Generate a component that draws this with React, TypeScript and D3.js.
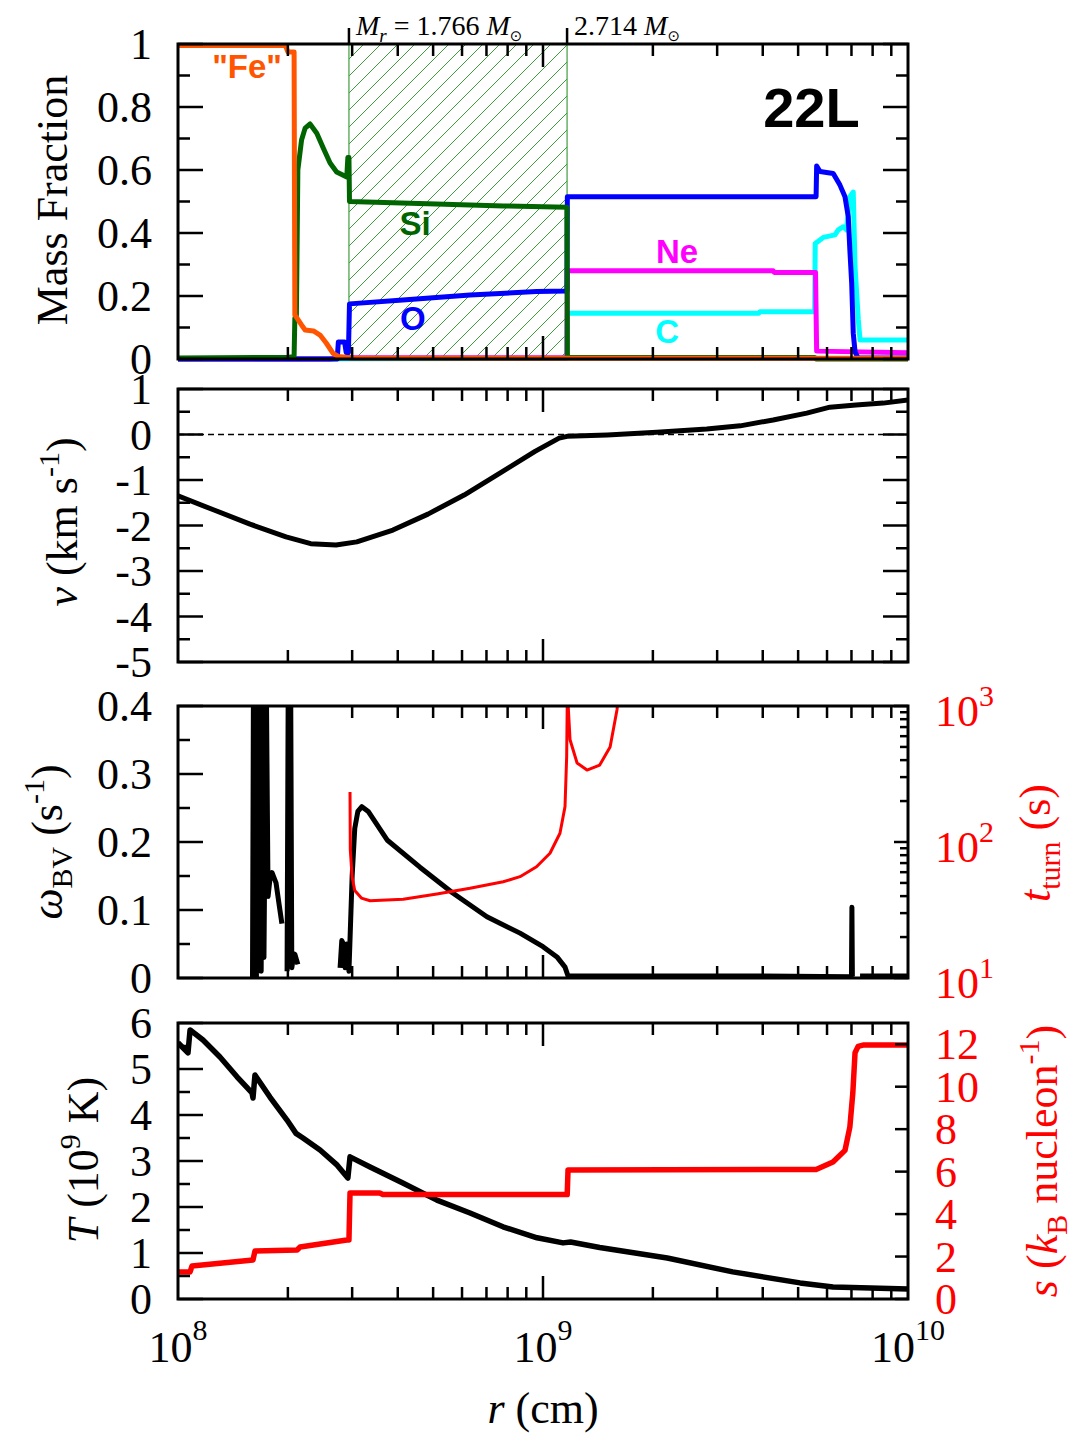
import React, { useEffect, useRef } from "react";
import * as d3 from "d3";

type Pt = [number, number | null];

// radius is in cm everywhere

// shell edges marked on the top axis and the enclosed mass at each
const shellEdges = [2.94e8, 1.164e9];
const shellMasses = ["1.766", "2.714"];

// mass fractions
const feFrac: Pt[] = [
  [1e8, 0.995], [1.97e8, 0.995], [2.0e8, 0.975], [2.08e8, 0.975], [2.09e8, 0.14],
  [2.18e8, 0.108], [2.23e8, 0.092], [2.35e8, 0.089], [2.45e8, 0.076], [2.55e8, 0.05],
  [2.66e8, 0.018], [2.75e8, 0.008], [3.0e8, 0.003], [1e10, 0.002],
];
const siFrac: Pt[] = [
  [1e8, 0.003], [2.0e8, 0.005], [2.08e8, 0.008], [2.09e8, 0.13], [2.11e8, 0.13],
  [2.13e8, 0.6], [2.18e8, 0.695], [2.23e8, 0.733], [2.3e8, 0.746], [2.4e8, 0.717],
  [2.5e8, 0.67], [2.61e8, 0.622], [2.72e8, 0.594], [2.9e8, 0.578], [2.92e8, 0.64],
  [2.94e8, 0.64], [2.95e8, 0.5], [5.1e8, 0.492], [7.8e8, 0.486], [1.163e9, 0.482],
  [1.166e9, 0.005], [5.55e9, 0.005], [5.6e9, 0.0], [1e10, 0.0],
];
const oFrac: Pt[] = [
  [1e8, 0.0], [2.73e8, 0.0], [2.75e8, 0.054], [2.86e8, 0.054], [2.89e8, 0.02],
  [2.93e8, 0.02], [2.95e8, 0.175], [4.13e8, 0.187], [6.31e8, 0.203], [9.6e8, 0.214],
  [1.163e9, 0.216], [1.166e9, 0.515], [5.6e9, 0.515], [5.62e9, 0.613], [5.74e9, 0.595],
  [6.24e9, 0.589], [6.51e9, 0.552], [6.72e9, 0.515], [6.86e9, 0.452], [6.93e9, 0.346],
  [7.01e9, 0.24], [7.08e9, 0.082], [7.16e9, 0.023], [7.3e9, 0.003], [1e10, 0.003],
];
const neFrac: Pt[] = [
  [1e8, 0.0], [2.6e8, 0.0], [2.8e8, 0.004], [1.163e9, 0.004], [1.166e9, 0.28],
  [4.27e9, 0.28], [4.3e9, 0.275], [5.58e9, 0.275], [5.62e9, 0.025], [1e10, 0.02],
];
const cFrac: Pt[] = [
  [1e8, 0.0], [1.163e9, 0.002], [1.166e9, 0.145], [3.9e9, 0.145], [3.93e9, 0.15],
  [5.55e9, 0.15], [5.57e9, 0.367], [5.86e9, 0.386], [6.31e9, 0.394], [6.44e9, 0.41],
  [6.65e9, 0.42], [6.79e9, 0.41], [6.93e9, 0.515], [7.08e9, 0.53], [7.16e9, 0.293],
  [7.31e9, 0.124], [7.39e9, 0.06], [1e10, 0.06],
];

// radial velocity (km/s)
const velocity: Pt[] = [
  [1e8, -1.35], [1.255e8, -1.66], [1.575e8, -1.97], [1.977e8, -2.25], [2.31e8, -2.4],
  [2.71e8, -2.43], [3.09e8, -2.36], [3.88e8, -2.1], [4.84e8, -1.75], [6.08e8, -1.33],
  [7.62e8, -0.85], [9.51e8, -0.37], [1.107e9, -0.08], [1.164e9, -0.04], [1.5e9, -0.01],
  [2.05e9, 0.05], [2.81e9, 0.12], [3.47e9, 0.19], [4.27e9, 0.32], [5.28e9, 0.47],
  [6.11e9, 0.6], [7.2e9, 0.65], [8.55e9, 0.69], [1e10, 0.76],
];

// Brunt-Vaisala frequency (1/s), null = gap
const omegaBV: Pt[] = [
  [1.6e8, 0.0], [1.61e8, 0.45], [1.62e8, 0.0], [1.63e8, 0.45], [1.64e8, 0.0],
  [1.65e8, 0.45], [1.66e8, 0.01], [1.675e8, 0.45], [1.69e8, 0.01], [1.705e8, 0.45],
  [1.72e8, 0.03], [1.745e8, 0.45], [1.765e8, 0.12], [1.79e8, 0.15],
  [1.81e8, 0.155], [1.856e8, 0.14], [1.89e8, 0.11], [1.926e8, 0.08], [1.93e8, null],
  [1.99e8, 0.01], [2.005e8, 0.45], [2.035e8, 0.45], [2.05e8, 0.015], [2.07e8, 0.03],
  [2.09e8, 0.035], [2.13e8, 0.02], [2.14e8, null],
  [2.78e8, 0.015], [2.81e8, 0.055], [2.84e8, 0.05], [2.87e8, 0.015], [2.9e8, 0.05],
  [2.94e8, 0.01], [3.0e8, 0.15], [3.05e8, 0.22], [3.11e8, 0.245], [3.19e8, 0.252],
  [3.32e8, 0.245], [3.74e8, 0.203], [4.6e8, 0.163], [5.66e8, 0.125], [7.02e8, 0.09],
  [8.65e8, 0.066], [1.0e9, 0.046], [1.092e9, 0.031], [1.149e9, 0.016], [1.171e9, 0.003],
  [2.0e9, 0.003], [4.0e9, 0.003], [7.0e9, 0.002], [7.02e9, 0.104], [7.04e9, 0.002],
  [7.1e9, null], [7.39e9, 0.003], [1e10, 0.003],
];

// turnover time (s), two branches
const tTurn: Pt[] = [
  [2.96e8, 233], [2.965e8, 88], [3.0e8, 55], [3.05e8, 44], [3.18e8, 38.7], [3.36e8, 37],
  [4.14e8, 38], [5.12e8, 41.5], [6.31e8, 45.7], [7.78e8, 51], [8.65e8, 55.6],
  [9.6e8, 65.8], [1.045e9, 82.6], [1.113e9, 116], [1.149e9, 182], [1.161e9, 424],
  [1.165e9, 1000], [1.166e9, null],
  [1.168e9, 1200], [1.186e9, 565], [1.24e9, 381], [1.32e9, 338], [1.43e9, 368],
  [1.527e9, 500], [1.595e9, 940], [1.61e9, 1200],
];

// temperature (1e9 K)
const temperature: Pt[] = [
  [1e8, 5.57], [1.065e8, 5.35], [1.079e8, 5.85], [1.171e8, 5.63], [1.303e8, 5.26],
  [1.451e8, 4.83], [1.595e8, 4.48], [1.605e8, 4.37], [1.625e8, 4.87], [1.786e8, 4.39],
  [1.989e8, 3.89], [2.105e8, 3.6], [2.2e8, 3.5], [2.45e8, 3.24], [2.73e8, 2.91],
  [2.92e8, 2.63], [2.96e8, 3.09], [3.36e8, 2.87], [4.13e8, 2.52], [5.12e8, 2.15],
  [6.31e8, 1.87], [7.77e8, 1.57], [9.63e8, 1.33], [1.135e9, 1.22], [1.19e9, 1.24],
  [1.43e9, 1.12], [2.19e9, 0.89], [3.31e9, 0.59], [5.06e9, 0.35], [6.23e9, 0.26],
  [1e10, 0.22],
];

// entropy (kB / nucleon)
const entropy: Pt[] = [
  [1e8, 1.27], [1.079e8, 1.27], [1.092e8, 1.55], [1.605e8, 1.84], [1.625e8, 2.26],
  [2.12e8, 2.31], [2.16e8, 2.45], [2.9e8, 2.78], [2.94e8, 2.78], [2.96e8, 4.99],
  [3.57e8, 4.99], [3.64e8, 4.92], [1.165e9, 4.92], [1.171e9, 6.08], [5.6e9, 6.1],
  [6.23e9, 6.45], [6.72e9, 7.0], [6.93e9, 8.1], [7.06e9, 9.7], [7.16e9, 11.6],
  [7.3e9, 11.9], [7.53e9, 11.96], [1e10, 11.96],
];

// tick labels
const radiusTicks = [1e8, 1e9, 1e10];
const massTicks = [0, 0.2, 0.4, 0.6, 0.8, 1];
const velTicks = [1, 0, -1, -2, -3, -4, -5];
const bvTicks = [0, 0.1, 0.2, 0.3, 0.4];
const turnTicks = [10, 100, 1000];
const tempTicks = [0, 1, 2, 3, 4, 5, 6];
const entropyTicks = [0, 2, 4, 6, 8, 10, 12];

const W = 1080;
const H = 1440;
const X0 = 178;
const X1 = 908;
const serif = "'Liberation Serif', 'Times New Roman', serif";
const sans = "'Liberation Sans', Arial, sans-serif";
const RED = "#ff0000";
const HATCH = "#3e9e3e";

type Run = { t: string; it?: boolean; size?: number; dy?: number; fam?: string };
type G = d3.Selection<any, unknown, null, undefined>;

function rich(g: G, runs: Run[], size: number, fill = "#000") {
  const txt = g.append("text")
    .attr("font-family", serif)
    .attr("font-size", size)
    .attr("fill", fill)
    .style("white-space", "pre");
  runs.forEach(r => {
    const ts = txt.append("tspan").text(r.t);
    if (r.it) ts.attr("font-style", "italic");
    if (r.size) ts.attr("font-size", r.size);
    if (r.dy) ts.attr("dy", r.dy);
    if (r.fam) ts.attr("font-family", r.fam);
  });
  return txt;
}

function midpoints(v: number[]) {
  const out: number[] = [];
  for (let i = 0; i < v.length - 1; i++) out.push((v[i] + v[i + 1]) / 2);
  return out;
}

function draw(svg: G) {
  const x = d3.scaleLog().domain([1e8, 1e10]).range([X0, X1]);

  const yMass = d3.scaleLinear().domain([0, 1]).range([359, 44]);
  const yVel = d3.scaleLinear().domain([-5, 1]).range([662, 389]);
  const yBV = d3.scaleLinear().domain([0, 0.4]).range([978, 706]);
  const yTurn = d3.scaleLog().domain([10, 1000]).range([978, 706]);
  const yTemp = d3.scaleLinear().domain([0, 6]).range([1299, 1023]);
  const yEnt = d3.scaleLinear().domain([0, 13]).range([1299, 1023]);

  const defs = svg.append("defs");
  const pat = defs.append("pattern")
    .attr("id", "hatch")
    .attr("patternUnits", "userSpaceOnUse")
    .attr("width", 17).attr("height", 17);
  pat.append("path")
    .attr("d", "M0,17 L17,0 M-2,2 L2,-2 M15,19 L19,15")
    .attr("stroke", HATCH).attr("stroke-width", 1)
    .attr("shape-rendering", "crispEdges");

  const clip = (id: string, y: d3.ScaleContinuousNumeric<number, number>, pad: number) => {
    const [b, t] = y.range();
    defs.append("clipPath").attr("id", id)
      .append("rect")
      .attr("x", X0).attr("y", t - pad)
      .attr("width", X1 - X0).attr("height", b - t + 2 * pad);
    return `url(#${id})`;
  };

  const lineFor = (y: (v: number) => number) =>
    d3.line<Pt>()
      .defined(d => d[1] !== null)
      .x(d => x(d[0]))
      .y(d => y(d[1] as number));

  const plot = (g: G, data: Pt[], y: (v: number) => number, color: string, w: number) =>
    g.append("path")
      .attr("d", lineFor(y)(data))
      .attr("fill", "none")
      .attr("stroke", color)
      .attr("stroke-width", w)
      .attr("stroke-linejoin", "round");

  const xTicks = (g: G, y: d3.ScaleContinuousNumeric<number, number>) => {
    const [b, t] = y.range();
    const ticks = x.ticks().filter(v => v > 1e8 && v < 1e10);
    const isMajor = (v: number) => Math.abs(Math.log10(v) - Math.round(Math.log10(v))) < 1e-9;
    g.selectAll(null).data(ticks).join("line")
      .attr("x1", d => x(d)).attr("x2", d => x(d))
      .attr("y1", b).attr("y2", d => b - (isMajor(d) ? 23 : 12))
      .attr("stroke", "#000").attr("stroke-width", 2.5);
    g.selectAll(null).data(ticks).join("line")
      .attr("x1", d => x(d)).attr("x2", d => x(d))
      .attr("y1", t).attr("y2", d => t + (isMajor(d) ? 23 : 12))
      .attr("stroke", "#000").attr("stroke-width", 2.5);
  };

  const yTicks = (g: G, y: (v: number) => number, values: number[], len: number, side: "left" | "right") => {
    const x0 = side === "left" ? X0 : X1;
    const dir = side === "left" ? 1 : -1;
    g.selectAll(null).data(values).join("line")
      .attr("x1", x0).attr("x2", x0 + dir * len)
      .attr("y1", d => y(d)).attr("y2", d => y(d))
      .attr("stroke", "#000").attr("stroke-width", 2.5);
  };

  const frame = (g: G, y: d3.ScaleContinuousNumeric<number, number>) => {
    const [b, t] = y.range();
    g.append("rect")
      .attr("x", X0).attr("y", t)
      .attr("width", X1 - X0).attr("height", b - t)
      .attr("fill", "none").attr("stroke", "#000").attr("stroke-width", 3);
  };

  const leftLabels = (g: G, y: (v: number) => number, values: number[]) => {
    g.selectAll(null).data(values).join("text")
      .attr("x", 152).attr("y", d => y(d) + 15)
      .attr("text-anchor", "end")
      .attr("font-family", serif).attr("font-size", 44)
      .text(d => String(d));
  };

  const rotLabel = (g: G, cx: number, cy: number, runs: Run[], fill = "#000") =>
    rich(g.append("g").attr("transform", `translate(${cx},${cy}) rotate(-90)`), runs, 44, fill)
      .attr("text-anchor", "middle");

  // ---------- panel 1: composition ----------
  const p1 = svg.append("g");
  const [m0, m1] = shellEdges;
  p1.append("rect")
    .attr("x", x(m0)).attr("y", yMass(1))
    .attr("width", x(m1) - x(m0)).attr("height", yMass(0) - yMass(1))
    .attr("fill", "url(#hatch)");
  p1.selectAll(null).data(shellEdges).join("line")
    .attr("x1", d => x(d)).attr("x2", d => x(d))
    .attr("y1", yMass(1)).attr("y2", yMass(0))
    .attr("stroke", HATCH).attr("stroke-width", 1.2);

  const c1 = p1.append("g").attr("clip-path", clip("clip1", yMass, 4));
  plot(c1, cFrac, yMass, "#00ffff", 5);
  plot(c1, neFrac, yMass, "#ff00ff", 5);
  plot(c1, oFrac, yMass, "#0000ff", 5);
  plot(c1, siFrac, yMass, "#006400", 5);
  plot(c1, feFrac, yMass, "#ff5500", 5);

  const species: [string, number, number, string][] = [
    ['"Fe"', 1.546e8, 0.892, "#ff5500"],
    ["Si", 4.46e8, 0.394, "#006400"],
    ["O", 4.4e8, 0.092, "#0000ff"],
    ["Ne", 2.33e9, 0.305, "#ff00ff"],
    ["C", 2.19e9, 0.051, "#00ffff"],
  ];
  p1.selectAll(null).data(species).join("text")
    .attr("x", d => x(d[1])).attr("y", d => yMass(d[2]))
    .attr("text-anchor", "middle")
    .attr("font-family", sans).attr("font-weight", "bold").attr("font-size", 33)
    .attr("fill", d => d[3])
    .text(d => d[0]);

  p1.append("text")
    .attr("x", x(4.01e9)).attr("y", yMass(0.737))
    .attr("font-family", sans).attr("font-weight", "bold").attr("font-size", 56)
    .text("22L");

  frame(p1, yMass);
  xTicks(p1, yMass);
  yTicks(p1, yMass, massTicks, 25, "left");
  yTicks(p1, yMass, midpoints(massTicks), 12, "left");
  yTicks(p1, yMass, massTicks, 25, "right");
  yTicks(p1, yMass, midpoints(massTicks), 12, "right");
  leftLabels(p1, yMass, massTicks);
  rotLabel(p1, 67, 200, [{ t: "Mass Fraction" }]);

  // shell marks above the frame
  p1.selectAll(null).data(shellEdges).join("line")
    .attr("x1", d => x(d)).attr("x2", d => x(d))
    .attr("y1", yMass(1) - 16).attr("y2", yMass(1))
    .attr("stroke", "#000").attr("stroke-width", 2.5);
  shellEdges.forEach((edge, i) => {
    const runs: Run[] = i === 0
      ? [{ t: "M", it: true }, { t: "r", it: true, size: 19, dy: 7 }, { t: " = " + shellMasses[i] + " ", dy: -7 }]
      : [{ t: shellMasses[i] + " " }];
    runs.push({ t: "M", it: true }, { t: "⊙", size: 15, dy: 6, fam: "'DejaVu Sans', sans-serif" });
    rich(p1, runs, 28).attr("x", x(edge) + 7).attr("y", 35);
  });

  // ---------- panel 2: velocity ----------
  const p2 = svg.append("g");
  p2.append("line")
    .attr("x1", X0).attr("x2", X1)
    .attr("y1", yVel(0)).attr("y2", yVel(0))
    .attr("stroke", "#000").attr("stroke-width", 1.5)
    .attr("stroke-dasharray", "6,4");
  const c2 = p2.append("g").attr("clip-path", clip("clip2", yVel, 3));
  plot(c2, velocity, yVel, "#000", 5);
  frame(p2, yVel);
  xTicks(p2, yVel);
  yTicks(p2, yVel, velTicks, 25, "left");
  yTicks(p2, yVel, midpoints(velTicks), 12, "left");
  yTicks(p2, yVel, velTicks, 25, "right");
  yTicks(p2, yVel, midpoints(velTicks), 12, "right");
  leftLabels(p2, yVel, velTicks);
  rotLabel(p2, 77, 522, [
    { t: "v", it: true }, { t: " (km s" }, { t: "-1", size: 30, dy: -18 }, { t: ")", dy: 18 },
  ]);

  // ---------- panel 3: BV frequency & turnover time ----------
  const p3 = svg.append("g");
  const c3 = p3.append("g").attr("clip-path", clip("clip3", yBV, 0));
  plot(c3, omegaBV, yBV, "#000", 5);
  plot(c3, tTurn, yTurn, RED, 3);
  frame(p3, yBV);
  xTicks(p3, yBV);
  yTicks(p3, yBV, bvTicks, 25, "left");
  yTicks(p3, yBV, midpoints(bvTicks), 12, "left");
  const logTicks = yTurn.ticks();
  yTicks(p3, yTurn, logTicks.filter(v => turnTicks.includes(v)), 14, "right");
  yTicks(p3, yTurn, logTicks.filter(v => !turnTicks.includes(v)), 8, "right");
  leftLabels(p3, yBV, bvTicks);
  turnTicks.forEach(v => {
    rich(p3, [{ t: "10" }, { t: String(Math.round(Math.log10(v))), size: 30, dy: -20 }], 44, RED)
      .attr("x", 935).attr("y", yTurn(v) + 20);
  });
  rotLabel(p3, 62, 842, [
    { t: "ω", it: true }, { t: "BV", size: 30, dy: 10 }, { t: " (s", dy: -10 },
    { t: "-1", size: 30, dy: -18 }, { t: ")", dy: 18 },
  ]);
  rotLabel(p3, 1050, 843, [
    { t: "t", it: true }, { t: "turn", size: 30, dy: 10 }, { t: " (s)", dy: -10 },
  ], RED);

  // ---------- panel 4: temperature & entropy ----------
  const p4 = svg.append("g");
  const c4 = p4.append("g").attr("clip-path", clip("clip4", yTemp, 3));
  plot(c4, temperature, yTemp, "#000", 5.5);
  plot(c4, entropy, yEnt, RED, 5.5);
  frame(p4, yTemp);
  xTicks(p4, yTemp);
  yTicks(p4, yTemp, tempTicks, 25, "left");
  yTicks(p4, yTemp, midpoints(tempTicks), 12, "left");
  yTicks(p4, yEnt, entropyTicks, 13, "right");
  leftLabels(p4, yTemp, tempTicks);
  p4.selectAll(null).data(entropyTicks).join("text")
    .attr("x", 935).attr("y", d => yEnt(d) + 15)
    .attr("font-family", serif).attr("font-size", 44).attr("fill", RED)
    .text(d => String(d));
  rotLabel(p4, 98, 1160, [
    { t: "T", it: true }, { t: " (10" }, { t: "9", size: 30, dy: -18 }, { t: " K)", dy: 18 },
  ]);
  rotLabel(p4, 1057, 1161, [
    { t: "s", it: true }, { t: " (" }, { t: "k", it: true }, { t: "B", size: 30, dy: 10 },
    { t: " nucleon", dy: -10 }, { t: "-1", size: 30, dy: -18 }, { t: ")", dy: 18 },
  ], RED);

  // x axis labels
  radiusTicks.forEach(v => {
    rich(svg, [{ t: "10" }, { t: String(Math.round(Math.log10(v))), size: 30, dy: -22 }], 44)
      .attr("x", x(v)).attr("y", 1362)
      .attr("text-anchor", "middle");
  });
  rich(svg, [{ t: "r", it: true }, { t: " (cm)" }], 44)
    .attr("x", x(1e9)).attr("y", 1423)
    .attr("text-anchor", "middle");
}

export default function App() {
  const ref = useRef<SVGSVGElement | null>(null);

  useEffect(() => {
    if (ref.current == null) return;
    const svg = d3.select(ref.current);
    svg.selectAll("*").remove();
    draw(svg as any);
  }, []);

  return (
    <svg
      ref={ref}
      width={W}
      height={H}
      style={{ position: "absolute", left: 0, top: 0, background: "#fff" }}
    />
  );
}
